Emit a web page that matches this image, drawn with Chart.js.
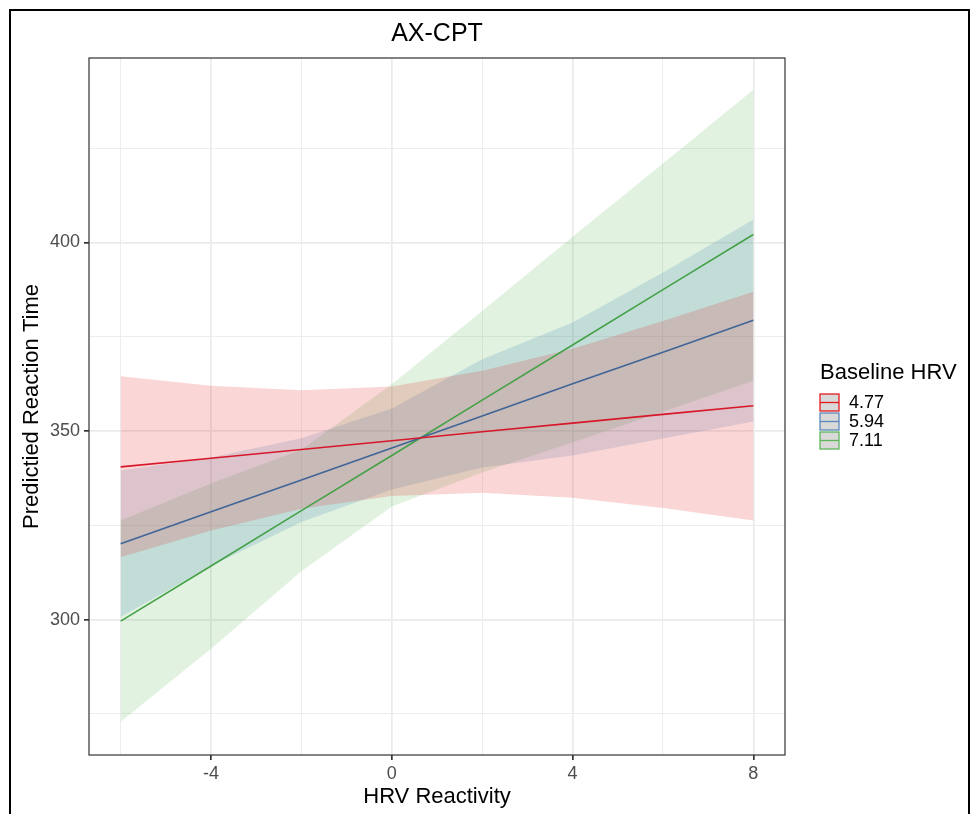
<!DOCTYPE html>
<html>
<head>
    <style>
        body {
            margin: 0;
            background: #fff;
        }
        #wrap {
            width: 972px;
            height: 814px;
        }
    </style>
    <script src="https://cdn.jsdelivr.net/npm/chart.js"></script>
</head>
<body>
    <div id="wrap"><canvas id="chart" width="972" height="814"></canvas></div>

    <script>
        // x positions where the predictions were made
        const hrvReactivity = [-6, -4, -2, 0, 2, 4, 6, 8];

        // Baseline HRV 4.77
        const fit477 = [340.5, 342.8, 345.1, 347.4, 349.8, 352.1, 354.4, 356.7];
        const upper477 = [364.5, 362.0, 360.8, 361.8, 366.0, 371.8, 379.2, 386.9];
        const lower477 = [316.5, 323.6, 329.4, 332.8, 333.6, 332.3, 329.6, 326.3];

        // Baseline HRV 5.94
        const fit594 = [320.1, 328.6, 337.0, 345.5, 354.0, 362.5, 370.9, 379.4];
        const upper594 = [339.5, 343.0, 348.1, 356.0, 369.0, 378.8, 392.0, 406.1];
        const lower594 = [300.7, 314.2, 325.9, 334.5, 340.3, 343.5, 348.0, 352.5];

        // Baseline HRV 7.11
        const fit711 = [299.6, 314.2, 328.9, 343.5, 358.2, 372.8, 387.5, 402.1];
        const upper711 = [326.3, 336.1, 345.0, 362.4, 381.8, 401.5, 420.9, 440.5];
        const lower711 = [272.9, 292.3, 312.8, 330.0, 339.0, 347.0, 355.1, 363.3];

        const groupLabels = ['4.77', '5.94', '7.11'];
        const lineColors = ['#d7182a', '#3f6697', '#45a147'];
        const keyColors = ['#e41a1c', '#5b88bd', '#5db65a'];
        const bandColors = ['rgba(228,26,28,0.18)', 'rgba(55,126,184,0.18)', 'rgba(77,175,74,0.17)'];

        const xTicks = [-6, -4, -2, 0, 2, 4, 6, 8];
        const xLabels = [-4, 0, 4, 8];
        const yTicks = [275, 300, 325, 350, 375, 400, 425];
        const yLabels = [300, 350, 400];

        const toPoints = ys => hrvReactivity.map((x, i) => ({ x: x, y: ys[i] }));

        const fits = [fit477, fit594, fit711];
        const uppers = [upper477, upper594, upper711];
        const lowers = [lower477, lower594, lower711];

        const datasets = [];
        for (let g = 0; g < 3; g++) {
            datasets.push({
                data: toPoints(uppers[g]),
                borderWidth: 0,
                borderColor: 'rgba(0,0,0,0)',
                backgroundColor: bandColors[g],
                pointRadius: 0,
                fill: '+1',
                order: 2
            });
            datasets.push({
                data: toPoints(lowers[g]),
                borderWidth: 0,
                borderColor: 'rgba(0,0,0,0)',
                pointRadius: 0,
                fill: false,
                order: 2
            });
        }
        for (let g = 0; g < 3; g++) {
            datasets.push({
                label: groupLabels[g],
                data: toPoints(fits[g]),
                borderColor: lineColors[g],
                borderWidth: 1.6,
                pointRadius: 0,
                fill: false,
                order: 0
            });
        }

        const gridColor = '#ebebeb';

        // titles, legend, panel border and the outer frame
        const decorations = {
            id: 'decorations',
            afterDraw(chart) {
                const ctx = chart.ctx;
                const a = chart.chartArea;
                ctx.save();

                ctx.strokeStyle = '#333333';
                ctx.lineWidth = 1.2;
                ctx.strokeRect(a.left, a.top, a.right - a.left, a.bottom - a.top);

                ctx.fillStyle = '#000';
                ctx.textAlign = 'center';
                ctx.textBaseline = 'middle';
                ctx.font = '25px "Liberation Sans", Arial, sans-serif';
                ctx.fillText('AX-CPT', (a.left + a.right) / 2, 34);

                ctx.font = '22px "Liberation Sans", Arial, sans-serif';
                ctx.fillText('HRV Reactivity', (a.left + a.right) / 2, 797);

                ctx.save();
                ctx.translate(32, (a.top + a.bottom) / 2);
                ctx.rotate(-Math.PI / 2);
                ctx.fillText('Predictied Reaction Time', 0, 0);
                ctx.restore();

                // legend
                ctx.textAlign = 'left';
                ctx.font = '22px "Liberation Sans", Arial, sans-serif';
                ctx.fillText('Baseline HRV', 820, 373);
                ctx.font = '18px "Liberation Sans", Arial, sans-serif';
                for (let g = 0; g < 3; g++) {
                    const ky = 394 + g * 19;
                    ctx.fillStyle = '#d9d9d9';
                    ctx.fillRect(820, ky, 19, 17);
                    ctx.strokeStyle = keyColors[g];
                    ctx.lineWidth = 1.3;
                    ctx.strokeRect(820, ky, 19, 17);
                    ctx.beginPath();
                    ctx.moveTo(820, ky + 8.5);
                    ctx.lineTo(839, ky + 8.5);
                    ctx.stroke();
                    ctx.fillStyle = '#000';
                    ctx.fillText(groupLabels[g], 849, ky + 9.5);
                }

                // outer frame of the figure
                ctx.strokeStyle = '#000';
                ctx.lineWidth = 2;
                ctx.beginPath();
                ctx.moveTo(10, 814);
                ctx.lineTo(10, 10);
                ctx.lineTo(969, 10);
                ctx.lineTo(969, 814);
                ctx.stroke();

                ctx.restore();
            }
        };

        new Chart(document.getElementById('chart'), {
            type: 'line',
            data: { datasets: datasets },
            plugins: [decorations],
            options: {
                responsive: false,
                animation: false,
                devicePixelRatio: 1,
                layout: { padding: { left: 0, top: 58, right: 187, bottom: 0 } },
                plugins: {
                    legend: { display: false },
                    tooltip: { enabled: false }
                },
                elements: { line: { tension: 0 } },
                scales: {
                    x: {
                        type: 'linear',
                        min: -6.7,
                        max: 8.7,
                        afterBuildTicks: s => { s.ticks = xTicks.map(v => ({ value: v })); },
                        afterFit: s => { s.height = 59; },
                        border: { display: false },
                        grid: {
                            color: gridColor,
                            lineWidth: c => xLabels.includes(c.tick.value) ? 1.7 : 0.9,
                            tickColor: c => xLabels.includes(c.tick.value) ? '#333333' : 'rgba(0,0,0,0)',
                            tickLength: 5
                        },
                        ticks: {
                            autoSkip: false,
                            maxRotation: 0,
                            padding: 3,
                            color: '#4d4d4d',
                            font: { family: '"Liberation Sans", Arial, sans-serif', size: 18 },
                            callback: v => xLabels.includes(v) ? String(v) : ''
                        }
                    },
                    y: {
                        min: 264.1,
                        max: 448.9,
                        afterBuildTicks: s => { s.ticks = yTicks.map(v => ({ value: v })); },
                        afterFit: s => { s.width = 89; },
                        border: { display: false },
                        grid: {
                            color: gridColor,
                            lineWidth: c => yLabels.includes(c.tick.value) ? 1.7 : 0.9,
                            tickColor: c => yLabels.includes(c.tick.value) ? '#333333' : 'rgba(0,0,0,0)',
                            tickLength: 5
                        },
                        ticks: {
                            autoSkip: false,
                            padding: 4,
                            color: '#4d4d4d',
                            font: { family: '"Liberation Sans", Arial, sans-serif', size: 18 },
                            callback: v => yLabels.includes(v) ? String(v) : ''
                        }
                    }
                }
            }
        });
    </script>
</body>
</html>
